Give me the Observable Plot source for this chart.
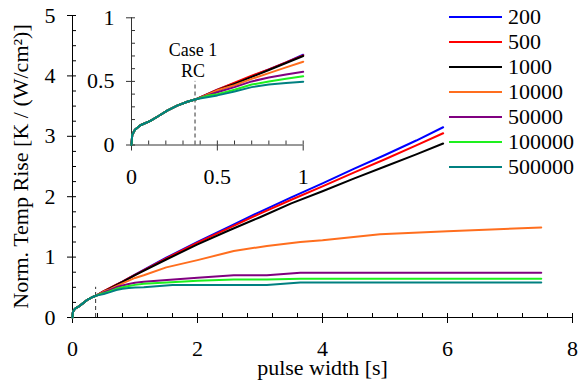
<!DOCTYPE html>
<html><head><meta charset="utf-8">
<script src="https://cdn.jsdelivr.net/npm/d3@7"></script>
<script src="https://cdn.jsdelivr.net/npm/@observablehq/plot@0.6"></script>
<style>
body{margin:0;background:#fff;}
#wrap{position:relative;width:579px;height:382px;font-family:"Liberation Serif","Times New Roman",serif;}
#wrap svg{position:absolute;left:0;top:0;}
#legend{position:absolute;left:449px;top:4.85px;}
.row{display:flex;align-items:center;height:24.9px;}
.sw{width:53px;height:2px;}
.lab{margin-left:6px;font-size:22px;line-height:1;color:#000;}
</style></head><body><div id="wrap"><div id="legend"></div></div>
<script>
// ---- data ----
const series = ["200", "500", "1000", "10000", "50000", "100000", "500000"];
const colors = ["#0000ff", "#ff0000", "#000000", "#ff6e1e", "#800080", "#1ef01e", "#008080"];

// shared early part (all series coincide)
const earlyT = [0, 0.004, 0.02, 0.052, 0.11, 0.16, 0.208, 0.266, 0.325, 0.38];
const earlyV = [0, 0.078, 0.12, 0.155, 0.19, 0.23, 0.27, 0.31, 0.34, 0.362];

const tLin = [0.5, 0.6, 0.7, 0.8, 0.9, 1, 1.5, 2, 2.5, 3, 3.5, 4, 4.5, 5, 5.5, 5.93];
const v200 = [0.435, 0.485, 0.54, 0.595, 0.65, 0.71, 0.99, 1.25, 1.5, 1.75, 1.99, 2.22, 2.46, 2.69, 2.93, 3.15];
const v500 = [0.435, 0.49, 0.545, 0.595, 0.65, 0.705, 0.98, 1.24, 1.48, 1.72, 1.95, 2.17, 2.4, 2.62, 2.85, 3.05];
const v1000 = [0.43, 0.48, 0.535, 0.59, 0.645, 0.70, 0.96, 1.21, 1.44, 1.66, 1.89, 2.09, 2.3, 2.5, 2.7, 2.88];

const t10000 = [0.5, 0.6, 0.7, 0.8, 0.9, 1, 1.14, 1.5, 2, 2.58, 3.11, 3.645, 4, 4.92, 6, 7.5];
const v10000 = [0.43, 0.47, 0.52, 0.565, 0.61, 0.655, 0.70, 0.83, 0.95, 1.10, 1.185, 1.25, 1.28, 1.38, 1.43, 1.49];

const t50000 = [0.5, 0.6, 0.7, 0.8, 0.9, 1, 1.14, 1.51, 2, 2.58, 3.11, 3.645, 7.5];
const v50000 = [0.415, 0.455, 0.50, 0.53, 0.555, 0.575, 0.59, 0.62, 0.66, 0.70, 0.70, 0.74, 0.74];

const t100000 = [0.45, 0.5, 0.6, 0.7, 0.8, 0.9, 1, 1.14, 1.51, 2, 2.58, 3.11, 3.645, 7.5];
const v100000 = [0.39, 0.40, 0.435, 0.475, 0.50, 0.52, 0.54, 0.56, 0.58, 0.61, 0.63, 0.63, 0.64, 0.64];

const t500000 = [0.5, 0.6, 0.7, 0.8, 0.9, 1, 1.14, 1.6, 2, 2.58, 3.11, 3.645, 7.5];
const v500000 = [0.39, 0.42, 0.455, 0.475, 0.488, 0.498, 0.50, 0.54, 0.54, 0.54, 0.54, 0.58, 0.58];

const caseX = 0.37, caseTop = 0.5;
const caseLabel = "Case 1\nRC";

const xMajor = [0, 2, 4, 6, 8];
const xMinor = [0.4, 0.8, 1.2, 1.6, 2.4, 2.8, 3.2, 3.6, 4.4, 4.8, 5.2, 5.6, 6.4, 6.8, 7.2, 7.6];
const yMajor = [0, 1, 2, 3, 4, 5];
const yMinor = [0.25, 0.5, 0.75, 1.25, 1.5, 1.75, 2.25, 2.5, 2.75, 3.25, 3.5, 3.75, 4.25, 4.5, 4.75];
const inMajor = [0, 0.5, 1];
const inMinor = [0.1, 0.2, 0.3, 0.4, 0.6, 0.7, 0.8, 0.9];
const xTitle = "pulse width [s]";
const yTitle = "Norm. Temp Rise [K / (W/cm²)]";

// ---- build table ----
const tails = {
  "200": [tLin, v200], "500": [tLin, v500], "1000": [tLin, v1000],
  "10000": [t10000, v10000], "50000": [t50000, v50000],
  "100000": [t100000, v100000], "500000": [t500000, v500000]
};
const rows = [];
for (const s of series) {
  const [tt, vv] = tails[s];
  earlyT.forEach((t, i) => rows.push({s, t, v: earlyV[i]}));
  tt.forEach((t, i) => rows.push({s, t, v: vv[i]}));
}
const insetRows = rows.filter(d => d.t <= 1);

const FAM = "Liberation Serif";
const font = {fontFamily: FAM, fontSize: "22px"};
const blank = () => "";
const fmt = d => String(d);

function axesMarks(xMaj, xMin, yMaj, yMin, stroke) {
  return [
    Plot.ruleY([0], {stroke}),
    Plot.ruleX([0], {stroke}),
    Plot.axisX(xMaj, {tickSize: 6, tickFormat: blank, label: null, stroke}),
    Plot.axisX(xMaj, {tickSize: -4, tickFormat: blank, label: null, stroke}),
    Plot.axisX(xMin, {tickSize: -4, tickFormat: blank, label: null, stroke}),
    Plot.axisX(xMaj, {tickSize: 0, tickPadding: 23, label: null, tickFormat: fmt, fontFamily: FAM, fontSize: 22, fill: "#000"}),
    Plot.axisY(yMaj, {tickSize: 5, tickFormat: blank, label: null, stroke}),
    Plot.axisY(yMaj, {tickSize: -4, tickFormat: blank, label: null, stroke}),
    Plot.axisY(yMin, {tickSize: -4, tickFormat: blank, label: null, stroke}),
    Plot.axisY(yMaj, {tickSize: 0, tickPadding: 17, label: null, tickFormat: fmt, fontFamily: FAM, fontSize: 22, fill: "#000"})
  ];
}

const main = Plot.plot({
  width: 579, height: 382,
  marginLeft: 72, marginRight: 7, marginTop: 15, marginBottom: 65,
  style: {...font, background: "white"},
  x: {domain: [0, 8]},
  y: {domain: [0, 5]},
  color: {domain: series, range: colors},
  marks: [
    ...axesMarks(xMajor, xMinor, yMajor, yMinor, "#000"),
    Plot.ruleX([caseX], {y1: 0, y2: caseTop, stroke: "#333", strokeDasharray: "4,3"}),
    Plot.line(rows, {x: "t", y: "v", z: "s", stroke: "s", strokeWidth: 2}),
    Plot.text([xTitle], {text: d => d, frameAnchor: "bottom", textAnchor: "middle", dy: 57, lineAnchor: "bottom", fontSize: 22, fontFamily: FAM}),
    Plot.text([yTitle], {text: d => d, frameAnchor: "left", textAnchor: "middle", rotate: -90, dx: -45, lineAnchor: "bottom", fontSize: 22, fontFamily: FAM})
  ]
});

const inset = Plot.plot({
  width: 579, height: 382,
  marginLeft: 131, marginRight: 276.3, marginTop: 17.3, marginBottom: 237.5,
  style: {...font, background: "transparent"},
  x: {domain: [0, 1]},
  y: {domain: [0, 1]},
  color: {domain: series, range: colors},
  marks: [
    ...axesMarks(inMajor, inMinor, inMajor, inMinor, "#333"),
    Plot.ruleX([caseX], {y1: 0, y2: caseTop, stroke: "#333", strokeDasharray: "4,3"}),
    Plot.text([caseLabel], {text: d => d, x: caseX, y: caseTop, dy: -4, dx: -2, lineAnchor: "bottom", lineHeight: 1.17, fontSize: 18, fontFamily: FAM}),
    Plot.line(insetRows, {x: "t", y: "v", z: "s", stroke: "s", strokeWidth: 2})
  ]
});

const wrap = document.getElementById("wrap");
wrap.insertBefore(main, wrap.firstChild);
wrap.insertBefore(inset, document.getElementById("legend"));

const legend = d3.select("#legend");
series.forEach((s, i) => {
  const r = legend.append("div").attr("class", "row");
  r.append("div").attr("class", "sw").style("background", colors[i]);
  r.append("div").attr("class", "lab").text(s);
});
</script></body></html>
